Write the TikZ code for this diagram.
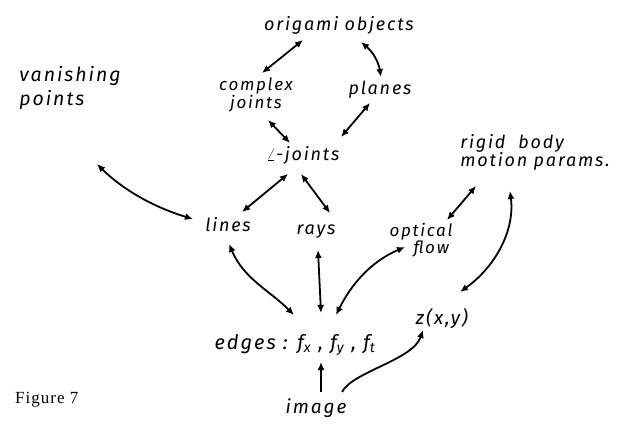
\documentclass[tikz,border=0pt]{standalone}
\usepackage{fontspec}
\setmainfont{Liberation Serif}
\newfontfamily\hand[LetterSpace=10]{Fira Sans}
\newfontfamily\figfont[LetterSpace=6]{Liberation Serif}
\usetikzlibrary{arrows.meta}
\tikzset{
  lbl/.style={font=\hand\itshape\fontsize{18}{18}\selectfont, align=center, inner sep=2pt},
  link/.style={line width=1.8pt, {Latex[length=8pt,width=7pt]}-{Latex[length=8pt,width=7pt]}},
  onelink/.style={line width=1.8pt, -{Latex[length=8pt,width=7pt]}}
}
\begin{document}
\begin{tikzpicture}[x=1pt,y=-1pt]
\useasboundingbox[fill=white] (0,0) rectangle (620,427);
\node[lbl] (orig) at (339,25) {origami objects};
\node[lbl,font=\hand\itshape\fontsize{17}{14}\selectfont] (cj) at (256,95) {complex\\joints};
\node[lbl] (pl) at (380,90) {planes};
\node[lbl] (lj) at (303,155) {$\angle$-joints};
\node[lbl,align=left,font=\hand\itshape\fontsize{19.5}{24}\selectfont] (vp) at (70,88) {vanishing\\points};
\node[lbl] (ln) at (228,225) {lines};
\node[lbl] (ry) at (316,232) {rays};
\node[lbl,font=\hand\itshape\fontsize{17}{15}\selectfont] (of) at (421,240) {optical\\\hspace*{1.2em}flow};
\node[lbl,align=left] (rb) at (535,152) {rigid\ \ body\\motion params.};
\node[lbl,font=\hand\itshape\fontsize{20}{20}\selectfont] (ed) at (295,345) {edges : f\textsubscript{x} , f\textsubscript{y} , f\textsubscript{t}};
\node[lbl,font=\hand\itshape\fontsize{19}{19}\selectfont] (z) at (442,318) {z(x,y)};
\node[lbl,font=\hand\itshape\fontsize{19}{19}\selectfont] (im) at (316,408) {image};
\node[font=\figfont\fontsize{17}{17}\selectfont, anchor=west, inner sep=0pt] (fig) at (15,400) {Figure 7};
\draw[link] ([shift={(-36,15)}]orig.center) -- ([shift={(6,-22)}]cj.center);
\draw[link] ([shift={(22,17)}]orig.center) to[bend left=20] ([shift={(1,-13)}]pl.center);
\draw[link] ([shift={(12,25)}]cj.center) -- ([shift={(-13,-12)}]lj.center);
\draw[link] ([shift={(-10,13)}]pl.center) -- ([shift={(38,-18)}]lj.center);
\draw[link] ([shift={(-15,19)}]lj.center) -- ([shift={(14,-13)}]ln.center);
\draw[link] ([shift={(-2,19)}]lj.center) -- ([shift={(14,-19)}]ry.center);
\draw[link] ([shift={(27,76)}]vp.center) .. controls +(25,25) and +(-40,-12) .. ([shift={(-35,-6)}]ln.center);
\draw[link] ([shift={(-59,34)}]rb.center) -- ([shift={(26,-20)}]of.center);
\draw[link] ([shift={(1,19)}]ln.center) .. controls +(15,35) and +(-25,-25) .. ([shift={(-1,-30)}]ed.center);
\draw[link] ([shift={(2,18)}]ry.center) -- ([shift={(26,-32)}]ed.center);
\draw[link] ([shift={(-16,7)}]of.center) .. controls +(-35,15) and +(15,-30) .. ([shift={(41,-30)}]ed.center);
\draw[link] ([shift={(18,-26)}]z.center) .. controls +(35,-25) and +(5,40) .. ([shift={(-25,39)}]rb.center);
\draw[onelink] ([shift={(5,-16)}]im.center) -- ([shift={(26,17)}]ed.center);
\draw[onelink] ([shift={(26,-16)}]im.center) .. controls +(10,-20) and +(-10,30) .. ([shift={(-19,12)}]z.center);
\end{tikzpicture}
\end{document}
